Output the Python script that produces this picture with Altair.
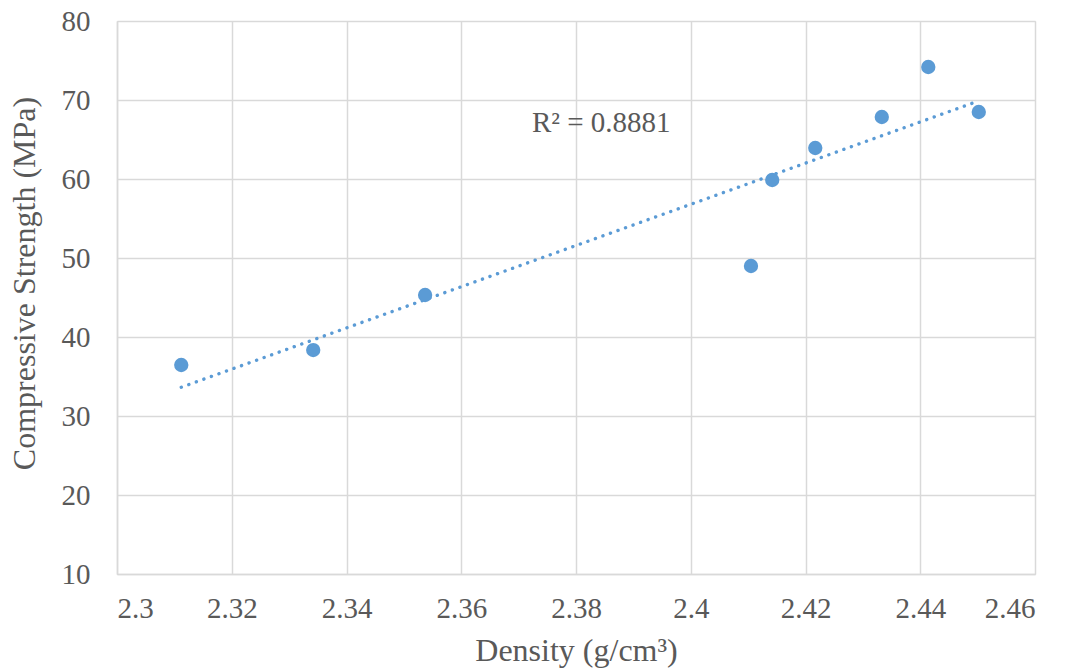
import altair as alt
import pandas as pd

density = [2.3112, 2.3342, 2.3537, 2.4105, 2.4142, 2.4217, 2.4333, 2.4414, 2.4502]
strength = [36.46, 38.35, 45.32, 48.99, 59.87, 63.92, 67.85, 74.18, 68.48]

r2_label = ["R² = 0.8881"]
r2_x = [2.3844]
r2_y = [67.1]

x_ticks = [2.3, 2.32, 2.34, 2.36, 2.38, 2.4, 2.42, 2.44, 2.46]
y_ticks = [10, 20, 30, 40, 50, 60, 70, 80]

df = pd.DataFrame({"Density": density, "Strength": strength})
lab = pd.DataFrame({"x": r2_x, "y": r2_y, "t": r2_label})

FONT = "'Times New Roman', 'Liberation Serif', serif"
BLUE = "#5B9BD5"
GREY = "#595959"

xscale = alt.Scale(domain=[2.3, 2.46], nice=False, zero=False)
yscale = alt.Scale(domain=[10, 80], nice=False, zero=False)

xaxis = alt.Axis(title="Density (g/cm³)", values=x_ticks,
                 labelExpr="format(datum.value, '~g')", labelPadding=20, titlePadding=12)
yaxis = alt.Axis(title="Compressive Strength (MPa)", values=y_ticks,
                 labelPadding=27, titlePadding=20, titleY=262)

base = alt.Chart(df)

trend = base.transform_regression("Density", "Strength").mark_line(
    color=BLUE, strokeWidth=3.4, strokeDash=[0.1, 7.9], strokeCap="round"
).encode(
    x=alt.X("Density:Q", scale=xscale, axis=xaxis),
    y=alt.Y("Strength:Q", scale=yscale, axis=yaxis),
)

points = base.mark_circle(color=BLUE, size=205, opacity=1).encode(
    x=alt.X("Density:Q", scale=xscale, axis=xaxis),
    y=alt.Y("Strength:Q", scale=yscale, axis=yaxis),
)

text = alt.Chart(lab).mark_text(font=FONT, fontSize=29, color=GREY, align="center", baseline="middle").encode(
    x=alt.X("x:Q", scale=xscale, axis=xaxis),
    y=alt.Y("y:Q", scale=yscale, axis=yaxis),
    text="t:N",
)

chart = alt.layer(trend, points, text).properties(
    width=918, height=553,
    autosize=alt.AutoSizeParams(type="none"),
    padding={"left": 117, "top": 21, "right": 30, "bottom": 96},
).configure_view(stroke=None).configure(background="white", font=FONT).configure_axis(
    ticks=False, domainColor="#d9d9d9", domainWidth=1.5,
    gridColor="#d9d9d9", gridWidth=1.5,
    labelFont=FONT, labelFontSize=29, labelColor=GREY,
    titleFont=FONT, titleFontSize=32, titleColor=GREY, titleFontWeight="normal",
)

chart.save("out.html", embed_options={"renderer": "svg", "actions": False})
